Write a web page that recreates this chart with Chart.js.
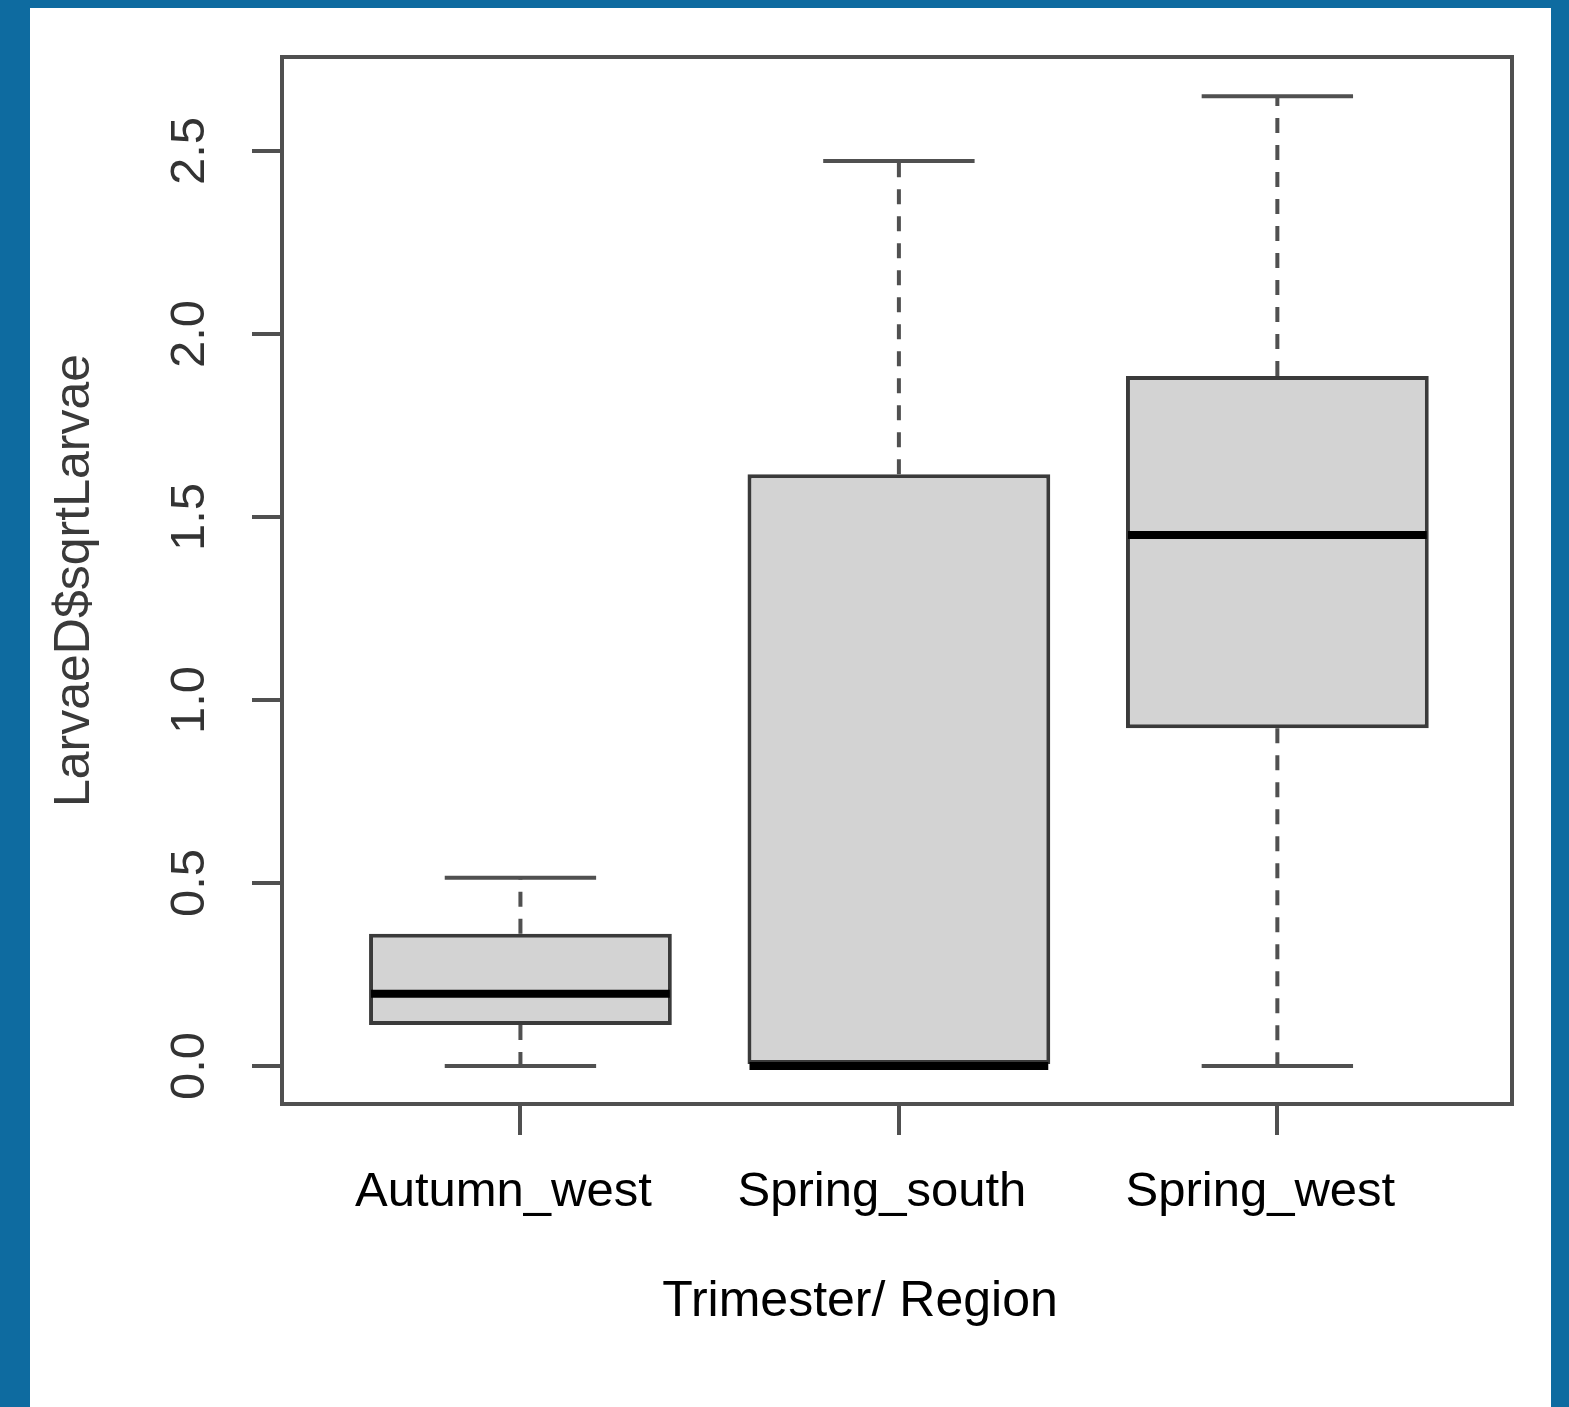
<!DOCTYPE html>
<html>
<head>
<meta charset="utf-8">
<script src="https://cdn.jsdelivr.net/npm/chart.js@4.4.1/dist/chart.umd.min.js"></script>
<style>
  html, body { margin: 0; padding: 0; width: 1569px; height: 1407px; overflow: hidden; background: #0e6ba0; }
  #panel { position: absolute; left: 30px; top: 8px; width: 1521px; height: 1399px; background: #ffffff; }
  #c { position: absolute; left: 0; top: 0; }
</style>
</head>
<body>
<div id="panel"></div>
<canvas id="c" width="1569" height="1407"></canvas>
<script>
// Five-number summaries of sqrt(larvae) per trimester/region group
const categories   = ['Autumn_west', 'Spring_south', 'Spring_west'];
const whiskerLow   = [0.000, 0.000, 0.000];
const q1           = [0.112, 0.000, 0.923];
const median       = [0.197, 0.000, 1.451];
const q3           = [0.361, 1.617, 1.885];
const whiskerHigh  = [0.514, 2.473, 2.650];
const yTickValues  = [0, 0.5, 1.0, 1.5, 2.0, 2.5];

const yTitle = 'LarvaeD$sqrtLarvae';
const xTitle = 'Trimester/ Region';

const FONT = "'Liberation Sans', Arial, Helvetica, sans-serif";
const AXIS_GREY = '#505050';
const LINE_W = 4;

// Whiskers (dashed) and staples drawn behind the boxes, medians on top
const boxWhiskers = {
  id: 'boxWhiskers',
  beforeDatasetsDraw(chart) {
    const meta = chart.getDatasetMeta(0);
    const y = chart.scales.y;
    const ctx = chart.ctx;
    ctx.save();
    ctx.strokeStyle = AXIS_GREY;
    ctx.lineWidth = LINE_W;
    meta.data.forEach((bar, i) => {
      const cx = bar.x;
      ctx.setLineDash([15, 12]);
      ctx.beginPath();
      ctx.moveTo(cx, y.getPixelForValue(q3[i]));
      ctx.lineTo(cx, y.getPixelForValue(whiskerHigh[i]));
      ctx.moveTo(cx, y.getPixelForValue(q1[i]));
      ctx.lineTo(cx, y.getPixelForValue(whiskerLow[i]));
      ctx.stroke();
      ctx.setLineDash([]);
      const staple = bar.width / 4;
      ctx.beginPath();
      [whiskerHigh[i], whiskerLow[i]].forEach(v => {
        const py = y.getPixelForValue(v);
        ctx.moveTo(cx - staple, py);
        ctx.lineTo(cx + staple, py);
      });
      ctx.stroke();
    });
    ctx.restore();
  },
  afterDatasetsDraw(chart) {
    const meta = chart.getDatasetMeta(0);
    const y = chart.scales.y;
    const ctx = chart.ctx;
    ctx.save();
    ctx.strokeStyle = '#000000';
    ctx.lineWidth = 8;
    ctx.lineCap = 'butt';
    meta.data.forEach((bar, i) => {
      const py = y.getPixelForValue(median[i]);
      ctx.beginPath();
      ctx.moveTo(bar.x - bar.width / 2 + 2, py);
      ctx.lineTo(bar.x + bar.width / 2 - 2, py);
      ctx.stroke();
    });
    ctx.restore();
  }
};

// Full frame around the plotting region plus the x-axis caption
const plotFrame = {
  id: 'plotFrame',
  afterDraw(chart) {
    const { ctx, chartArea: a } = chart;
    ctx.save();
    ctx.strokeStyle = AXIS_GREY;
    ctx.lineWidth = LINE_W;
    ctx.strokeRect(a.left, a.top, a.right - a.left, a.bottom - a.top);
    ctx.fillStyle = '#000000';
    ctx.font = '50px ' + FONT;
    ctx.textAlign = 'center';
    ctx.textBaseline = 'alphabetic';
    ctx.fillText(xTitle, (a.left + a.right) / 2 - 37, a.bottom + 212);
    ctx.restore();
  }
};

new Chart(document.getElementById('c'), {
  type: 'bar',
  data: {
    datasets: [{
      data: categories.map((c, i) => ({ x: i + 1, y: [q1[i], q3[i]] })),
      backgroundColor: '#d3d3d3',
      borderColor: '#3a3a3a',
      borderWidth: LINE_W,
      borderSkipped: false,
      barPercentage: 0.8,
      categoryPercentage: 1.0
    }]
  },
  options: {
    responsive: false,
    animation: false,
    devicePixelRatio: 1,
    layout: { padding: { left: 0, right: 57, top: 57, bottom: 0 } },
    plugins: { legend: { display: false }, tooltip: { enabled: false }, title: { display: false } },
    scales: {
      x: {
        type: 'linear',
        min: 0.37,
        max: 3.62,
        offset: false,
        afterBuildTicks(scale) { scale.ticks = categories.map((c, i) => ({ value: i + 1 })); },
        afterFit(scale) { scale.height = 303; },
        grid: { display: true, offset: false, drawOnChartArea: false, drawTicks: true, tickLength: 31, color: AXIS_GREY, lineWidth: LINE_W },
        border: { display: false },
        ticks: {
          callback: v => categories[Math.round(v) - 1],
          font: { family: FONT, size: 49 },
          color: '#000000',
          padding: 28,
          labelOffset: -17,
          maxRotation: 0,
          minRotation: 0,
          autoSkip: false
        },
        title: { display: false }
      },
      y: {
        type: 'linear',
        min: -0.104,
        max: 2.757,
        afterBuildTicks(scale) { scale.ticks = yTickValues.map(v => ({ value: v })); },
        afterFit(scale) { scale.width = 282; },
        grid: { display: true, drawOnChartArea: false, drawTicks: true, tickLength: 30, color: AXIS_GREY, lineWidth: LINE_W },
        border: { display: false },
        ticks: {
          callback: v => v.toFixed(1),
          font: { family: FONT, size: 49 },
          color: '#333333',
          padding: 27,
          crossAlign: 'center',
          minRotation: 90,
          maxRotation: 90
        },
        title: {
          display: true,
          text: yTitle,
          color: '#3a3a3a',
          font: { family: FONT, size: 50, lineHeight: 1.2 },
          padding: { top: 45, bottom: 0 }
        }
      }
    }
  },
  plugins: [boxWhiskers, plotFrame]
});
</script>
</body>
</html>
